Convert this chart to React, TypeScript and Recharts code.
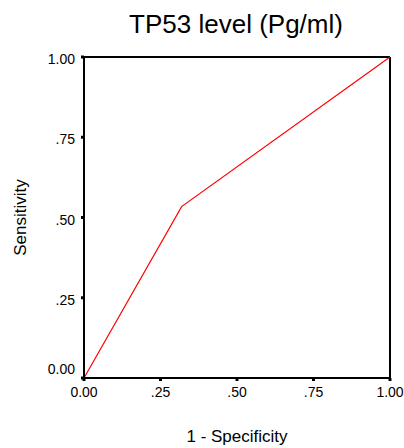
import React from "react";
import {
  LineChart,
  Line,
  XAxis,
  YAxis,
  ReferenceLine,
  Label,
} from "recharts";

const fpr = [0, 0.319, 1];
const sensitivity = [0, 0.534, 1];
const ticks = [0, 0.25, 0.5, 0.75, 1];
const tickLabels = ["0.00", ".25", ".50", ".75", "1.00"];

const data = fpr.map((x, i) => ({ x, y: sensitivity[i] }));

const FONT = "'Liberation Sans', Arial, sans-serif";

const fmt = (v: number) => tickLabels[ticks.indexOf(v)] ?? String(v);

function YTick(props: any) {
  const { x, y, payload } = props;
  const dy = payload.value === 0 ? -4 : 7;
  return (
    <text x={x} y={y + dy} textAnchor="end" fontSize={14} fontFamily={FONT} fill="#000">
      {fmt(payload.value)}
    </text>
  );
}

export default function App() {
  return (
    <div style={{ position: "absolute", left: 0, top: 0, width: 404, height: 448, background: "#fff" }}>
      <div
        style={{
          position: "absolute",
          left: 0,
          top: 9,
          width: 472,
          textAlign: "center",
          fontFamily: FONT,
          fontSize: 26,
          lineHeight: "30px",
          color: "#000",
        }}
      >
        TP53 level (Pg/ml)
      </div>
      <LineChart
        width={404}
        height={448}
        data={data}
        margin={{ top: 57, right: 14, bottom: 40, left: 0 }}
      >
        <XAxis
          type="number"
          dataKey="x"
          domain={[0, 1]}
          ticks={ticks}
          tickFormatter={fmt}
          height={30}
          axisLine={{ stroke: "#000", strokeWidth: 2 }}
          tickLine={{ stroke: "#000", strokeWidth: 3 }}
          tickSize={3}
          tickMargin={6}
          tick={{ fontSize: 14, fontFamily: FONT, fill: "#000" }}
          interval={0}
        >
          <Label
            value="1 - Specificity"
            position="bottom"
            offset={22}
            style={{ fontSize: 17, fontFamily: FONT, fill: "#000" }}
          />
        </XAxis>
        <YAxis
          type="number"
          dataKey="y"
          domain={[0, 1]}
          ticks={ticks}
          width={84}
          axisLine={{ stroke: "#000", strokeWidth: 2 }}
          tickLine={{ stroke: "#000", strokeWidth: 3 }}
          tickSize={3}
          tickMargin={6}
          tick={<YTick />}
          interval={0}
        >
          <Label
            value="Sensitivity"
            angle={-90}
            position="insideLeft"
            offset={20}
            style={{ fontSize: 17, fontFamily: FONT, fill: "#000", textAnchor: "middle" }}
          />
        </YAxis>
        <ReferenceLine x={1} stroke="#000" strokeWidth={2} />
        <ReferenceLine y={1} stroke="#000" strokeWidth={2} />
        <Line
          type="linear"
          dataKey="y"
          stroke="#ff0000"
          strokeWidth={1.2}
          dot={false}
          isAnimationActive={false}
        />
      </LineChart>
    </div>
  );
}
